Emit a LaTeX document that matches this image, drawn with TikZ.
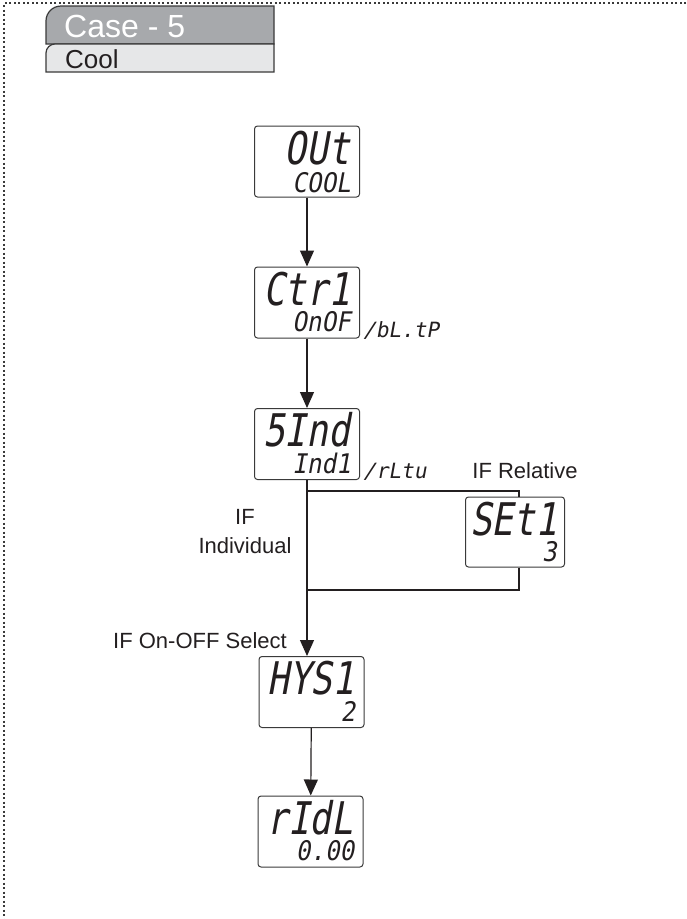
\documentclass[tikz,border=0pt]{standalone}
\usepackage{fontspec}
\setmainfont{Liberation Sans}
\newfontfamily\segfont[FakeSlant=0.18,FakeStretch=0.8]{DejaVu Sans Mono}
\newfontfamily\segsmall[FakeSlant=0.18,FakeStretch=0.9]{DejaVu Sans Mono}
\newfontfamily\segside[FakeSlant=0.18]{DejaVu Sans Mono}
\usetikzlibrary{arrows.meta,calc}
\definecolor{tabdark}{HTML}{A7A9AC}
\definecolor{tablight}{HTML}{E6E7E8}
\definecolor{edge}{HTML}{3A3A3A}
\definecolor{ink}{HTML}{231F20}
\tikzset{
  disp/.style={draw=edge, line width=1pt, rounded corners=3pt, fill=white,
    minimum width=105pt, minimum height=71pt, inner sep=0pt},
  bigseg/.style={inner sep=0pt, anchor=base east, text=ink, text depth=0pt,
    text height=33pt, font=\segfont\fontsize{45}{45}\selectfont},
  smallseg/.style={inner sep=0pt, anchor=base east, text=ink, text depth=0pt,
    text height=19pt, font=\segsmall\fontsize{27}{27}\selectfont},
  sideseg/.style={inner sep=0pt, anchor=base west, text=ink,
    font=\segside\fontsize{21}{21}\selectfont},
  conn/.style={draw=ink, line width=1.2pt},
  arr/.style={conn, -{Triangle[length=16pt,width=14pt]}},
  lbl/.style={inner sep=0pt, text=ink, font=\fontsize{22}{29}\selectfont},
  border/.style={draw=edge, line width=1.1pt, dash pattern=on 2pt off 2.5pt},
}
\begin{document}
\begin{tikzpicture}[x=1pt,y=-1pt]
\useasboundingbox (0,0) rectangle (686,919);
% dotted frame
\draw[border] (686,3) -- (4,3) -- (4,919);
% header tabs
\draw[draw=edge, line width=1.2pt, fill=tabdark]
  (46,44) [rounded corners=15pt] -- (46,6) [sharp corners] -- (274,6) -- (274,44) -- cycle;
\draw[draw=edge, line width=1.2pt, fill=tablight]
  (46,72) [rounded corners=9pt] -- (46,44) [sharp corners] -- (274,44) -- (274,72) -- cycle;
\node[inner sep=0pt, anchor=base west, text=white, font=\fontsize{32}{32}\selectfont] (case) at (64,37) {Case - 5};
\node[inner sep=0pt, anchor=base west, text=ink, font=\fontsize{26}{26}\selectfont] (cool) at (65,68) {Cool};

% displays
\node[disp] (b1) at (307,161.5) {};
\node[bigseg] (b1t) at ($(b1.north east)+(-10,39)$) {OUt};
\node[smallseg] (b1s) at ($(b1.north east)+(-9,67)$) {COOL};

\node[disp] (b2) at (307,302.5) {};
\node[bigseg] (b2t) at ($(b2.north east)+(-10,38.5)$) {Ctr1};
\node[smallseg] (b2s) at ($(b2.north east)+(-9,65)$) {OnOF};
\node[sideseg] (b2x) at ($(b2.south east)+(3,-1)$) {/bL.tP};

\node[disp] (b3) at (307,444) {};
\node[bigseg] (b3t) at ($(b3.north east)+(-10,38.5)$) {5Ind};
\node[smallseg] (b3s) at ($(b3.north east)+(-9,65)$) {Ind1};
\node[sideseg] (b3x) at ($(b3.south east)+(3,-2)$) {/rLtu};

\node[disp, minimum width=99pt, minimum height=70pt] (b4) at (515,532) {};
\node[bigseg] (b4t) at ($(b4.north east)+(-8,38.5)$) {SEt1};
\node[smallseg] (b4s) at ($(b4.north east)+(-8,65)$) {3};

\node[disp] (b5) at (311.5,692) {};
\node[bigseg] (b5t) at ($(b5.north east)+(-10,38.5)$) {HYS1};
\node[smallseg] (b5s) at ($(b5.north east)+(-9,65)$) {2};

\node[disp] (b6) at (310.5,831.5) {};
\node[bigseg] (b6t) at ($(b6.north east)+(-10,38.5)$) {rIdL};
\node[smallseg] (b6s) at ($(b6.north east)+(-9,65)$) {0.00};

% labels
\node[lbl, align=center] (lind) at (245,532) {IF\\Individual};
\node[lbl] (lrel) at (525,471) {IF Relative};
\node[lbl, anchor=base east] (lsel) at (287,648) {IF On-OFF Select};

% connectors
\coordinate (j1) at (307,491);
\coordinate (j2) at (307,590);
\coordinate (j3) at (519,491);
\coordinate (j4) at (519,590);
\draw[arr] (b1) -- (b2);
\draw[arr] (b2) -- (b3);
\draw[arr] (b3.south) -- (b3.south |- b5.north);
\draw[conn] (j1) -- (j3) -- (j3 |- b4.north);
\draw[conn] (j3 |- b4.south) -- (j4) -- (j2);
\draw[arr] (b5) -- (b6);
\end{tikzpicture}
\end{document}
